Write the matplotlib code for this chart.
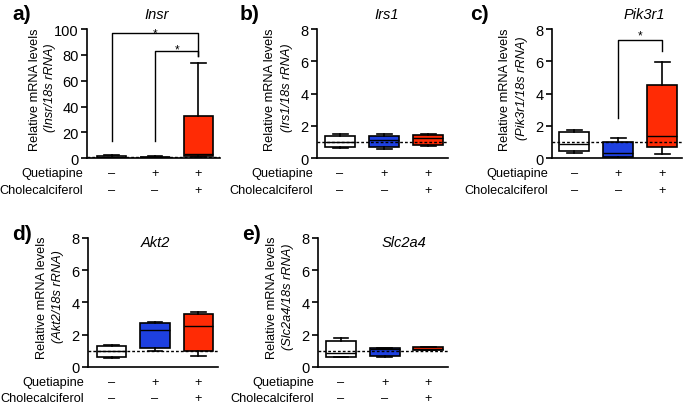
import matplotlib.pyplot as plt

plt.rcParams['font.family'] = ['Liberation Sans', 'DejaVu Sans']

# groups and treatment table
groups = [1, 2, 3]
quetiapine = ['–', '+', '+']
cholecalciferol = ['–', '–', '+']
box_colors = ['white', '#1e40e0', '#ff2b05']

genes = ['Insr', 'Irs1', 'Pik3r1', 'Akt2', 'Slc2a4']
letters = ['a)', 'b)', 'c)', 'd)', 'e)']

# box stats per group: (whislo, q1, med, q3, whishi)
insr = [(0.2, 0.5, 1.0, 1.8, 2.2), (0.3, 0.6, 0.9, 1.2, 1.5), (0.6, 1.5, 3.5, 33, 74)]
irs1 = [(0.66, 0.70, 0.97, 1.38, 1.49), (0.56, 0.70, 1.14, 1.38, 1.49), (0.74, 0.83, 1.22, 1.43, 1.49)]
pik3r1 = [(0.35, 0.43, 0.85, 1.63, 1.76), (0.04, 0.10, 0.35, 0.97, 1.22), (0.25, 0.70, 1.36, 4.55, 5.93)]
akt2 = [(0.52, 0.64, 0.99, 1.31, 1.37), (0.99, 1.16, 2.26, 2.72, 2.76), (0.68, 0.99, 2.50, 3.27, 3.38)]
slc2a4 = [(0.58, 0.64, 0.85, 1.57, 1.78), (0.64, 0.70, 1.08, 1.16, 1.16), (1.04, 1.06, 1.12, 1.22, 1.24)]
all_stats = [insr, irs1, pik3r1, akt2, slc2a4]

# significance brackets: (x_from, x_to, y_left, y_top, y_right, star_x, star_y)
brackets = {
    0: [(1, 3, 13.5, 97, 79, 2.0, 96.8), (2, 3, 13.5, 83, 79, 2.5, 84.0)],
    2: [(2, 3, 2.46, 7.33, 6.65, 2.5, 7.6)],
}

ylims = [100, 8, 8, 8, 8]
yticks = [[0, 20, 40, 60, 80, 100]] + [[0, 2, 4, 6, 8]] * 4

# axes rects (left, bottom, width, height) in figure fraction
rects = [
    [0.127, 0.608, 0.194, 0.318],
    [0.463, 0.608, 0.191, 0.318],
    [0.806, 0.608, 0.190, 0.318],
    [0.128, 0.094, 0.190, 0.318],
    [0.464, 0.094, 0.190, 0.318],
]
xlims = [(0.43, 3.5), (0.48, 3.45), (0.5, 3.45), (0.45, 3.45), (0.47, 3.45)]
title_pos = [(2.05, 1.115), (2.05, 1.115), (2.6, 1.115), (2.0, 0.97), (2.45, 0.97)]
ylab_x = [(-0.39, -0.28), (-0.36, -0.23), (-0.36, -0.23), (-0.35, -0.23), (-0.35, -0.23)]
letter_pos = [(12, 15), (240, 15), (470, 15), (12, 235), (242, 235)]

fig = plt.figure(figsize=(6.85, 4.06), dpi=100)

for i, stats in enumerate(all_stats):
    ax = fig.add_axes(rects[i])
    bxp_stats = []
    for s in stats:
        bxp_stats.append({'whislo': s[0], 'q1': s[1], 'med': s[2], 'q3': s[3], 'whishi': s[4], 'fliers': []})
    bp = ax.bxp(bxp_stats, positions=groups, widths=0.68, patch_artist=True, showfliers=False,
                boxprops=dict(linewidth=1.2, edgecolor='black'),
                medianprops=dict(color='black', linewidth=1.0),
                whiskerprops=dict(color='black', linewidth=1.2),
                capprops=dict(color='black', linewidth=1.2), capwidths=0.34)
    for patch, c in zip(bp['boxes'], box_colors):
        patch.set_facecolor(c)
    for patch in bp['boxes']:
        patch.set_zorder(2)

    ax.axhline(1, color='black', linestyle=(0, (2, 1.5)), linewidth=1.0, zorder=3)

    for b in brackets.get(i, []):
        ax.plot([b[0], b[0], b[1], b[1]], [b[2], b[3], b[3], b[4]], color='black', linewidth=1.0,
                clip_on=False)
        ax.text(b[5], b[6], '*', ha='center', va='center', fontsize=8.5)

    ax.set_xlim(*xlims[i])
    ax.set_ylim(0, ylims[i])
    ax.set_yticks(yticks[i])
    ax.set_xticks([])
    ax.spines['top'].set_visible(False)
    ax.spines['right'].set_visible(False)
    ax.spines['left'].set_linewidth(1.2)
    ax.spines['bottom'].set_linewidth(1.2)
    ax.tick_params(axis='y', labelsize=10.5, length=4, width=1.2, pad=2)

    tx, ty = title_pos[i]
    ax.text(tx, ty, genes[i], transform=ax.get_xaxis_transform(), ha='center', va='center',
            fontsize=10.5, style='italic')

    ax.text(ylab_x[i][0], 0.54, 'Relative mRNA levels', transform=ax.transAxes, rotation=90,
            ha='center', va='center', fontsize=9.2)
    ax.text(ylab_x[i][1], 0.55, '(' + genes[i] + '/18s rRNA)', transform=ax.transAxes, rotation=90,
            ha='center', va='center', fontsize=9.2, style='italic')

    ax.text(-0.03, -0.115, 'Quetiapine', transform=ax.transAxes, ha='right', va='center', fontsize=9.2)
    ax.text(-0.03, -0.245, 'Cholecalciferol', transform=ax.transAxes, ha='right', va='center', fontsize=9.2)
    for g, q, c in zip(groups, quetiapine, cholecalciferol):
        ax.text(g, -0.115, q, transform=ax.get_xaxis_transform(), ha='center', va='center', fontsize=9.2)
        ax.text(g, -0.245, c, transform=ax.get_xaxis_transform(), ha='center', va='center', fontsize=9.2)

    lx, ly = letter_pos[i]
    fig.text(lx / 685, 1 - ly / 406, letters[i], ha='left', va='center', fontsize=15, fontweight='bold')

fig.savefig('out.png', dpi=100)
